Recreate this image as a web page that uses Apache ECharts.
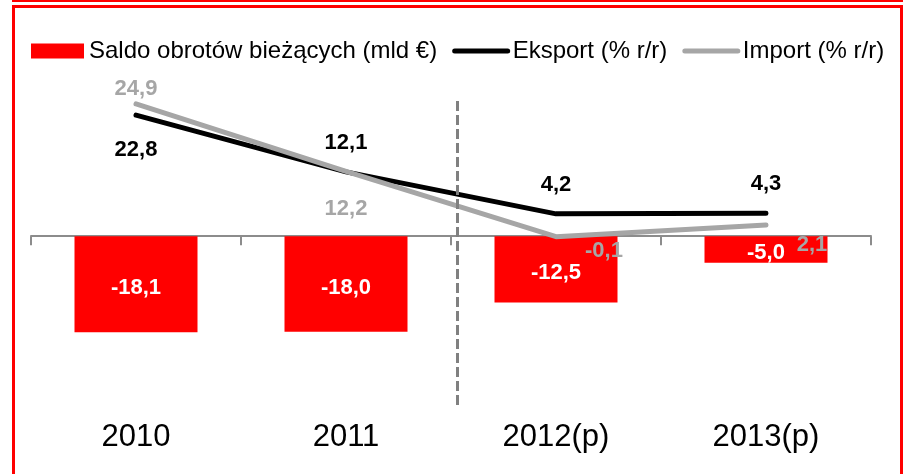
<!DOCTYPE html>
<html>
<head>
<meta charset="utf-8">
<script src="https://cdn.jsdelivr.net/npm/echarts@6/dist/echarts.min.js"></script>
<style>
html,body{margin:0;padding:0;background:#fff;}
#c{width:906px;height:474px;}
</style>
</head>
<body>
<div id="c"></div>
<script>
var categories = ['2010', '2011', '2012(p)', '2013(p)'];
var saldo = [-18.1, -18.0, -12.5, -5.0];
var eksport = [22.8, 12.1, 4.2, 4.3];
var importVals = [24.9, 12.2, -0.1, 2.1];
var seriesNames = ['Saldo obrotów bieżących (mld €)', 'Eksport (% r/r)', 'Import (% r/r)'];
var forecastStart = 2.03; // boundary between actual and forecast (in category units)

function fmt(v) { return v.toFixed(1).replace('.', ','); }

var eksLabel = [
  {position: 'bottom', distance: 20, offset: [0, 3]},
  {position: 'top', distance: 20, offset: [0, 3]},
  {position: 'top', distance: 19, offset: [0, 2]},
  {position: 'top', distance: 19, offset: [0, 2]}
];
var impLabel = [
  {position: 'top', distance: 6, offset: [0, 3]},
  {position: 'bottom', distance: 23, offset: [0, 3]},
  {position: 'inside', offset: [48, 14]},
  {position: 'inside', offset: [46, 20]}
];

var chart = echarts.init(document.getElementById('c'), null, {renderer: 'canvas'});
var labelFont = {fontFamily: 'Liberation Sans', fontSize: 22, fontWeight: 'bold'};

chart.setOption({
  animation: false,
  backgroundColor: '#ffffff',
  graphic: [
    {type: 'rect', shape: {x: 12, y: 0, width: 891, height: 2}, style: {fill: '#ff0000'}, silent: true},
    {type: 'rect', shape: {x: 13.5, y: 6.5, width: 888, height: 480}, style: {fill: 'none', stroke: '#ff0000', lineWidth: 3}, silent: true}
  ],
  legend: {
    left: 31, top: 39, padding: 0,
    itemWidth: 53, itemHeight: 15, itemGap: 15,
    textStyle: {fontFamily: 'Liberation Sans', fontSize: 24, color: '#000'},
    data: [
      {name: seriesNames[0], icon: 'rect'},
      {name: seriesNames[1], itemStyle: {opacity: 0}, lineStyle: {width: 5, color: '#000000', cap: 'round'}},
      {name: seriesNames[2], itemStyle: {opacity: 0}, lineStyle: {width: 5, color: '#a6a6a6', cap: 'round'}}
    ]
  },
  grid: {left: 31, right: 35, top: 97, bottom: 69, containLabel: false, outerBoundsMode: 'none'},
  xAxis: [{
    type: 'category',
    data: categories,
    position: 'bottom',
    axisLine: {onZero: true, lineStyle: {color: '#8c8c8c', width: 2}},
    axisTick: {show: true, length: 9, lineStyle: {color: '#8c8c8c', width: 2}},
    axisLabel: {show: false},
    splitLine: {show: false}
  }, {
    type: 'value', min: 0, max: 4, show: false
  }, {
    type: 'category',
    data: categories,
    position: 'bottom',
    axisLine: {show: false, onZero: false},
    axisTick: {show: false},
    axisLabel: {margin: 17, fontFamily: 'Liberation Sans', fontSize: 31, color: '#000'},
    splitLine: {show: false}
  }],
  yAxis: {
    type: 'value', min: -31.8, max: 26.2, show: false,
    splitLine: {show: false}
  },
  series: [
    {
      name: seriesNames[0], type: 'bar', barWidth: 123,
      itemStyle: {color: '#ff0000'},
      data: saldo,
      label: Object.assign({show: true, position: 'inside', offset: [0, 4], color: '#ffffff', formatter: function (p) { return fmt(p.value); }}, labelFont),
      z: 2
    },
    {
      name: 'divider', type: 'line', xAxisIndex: 1, data: [],
      markLine: {
        silent: true, symbol: ['none', 'none'],
        label: {show: false},
        lineStyle: {color: '#808080', width: 3, type: [10, 4]},
        data: [{xAxis: forecastStart}]
      },
      z: 1
    },
    {
      name: seriesNames[1], type: 'line', symbol: 'circle', symbolSize: 2, showSymbol: true,
      lineStyle: {color: '#000000', width: 5, cap: 'round', join: 'round'},
      itemStyle: {color: '#000000'},
      data: eksport.map(function (v, i) {
        return {value: v, label: Object.assign({show: true, color: '#000000', formatter: function (p) { return fmt(p.value); }}, labelFont, eksLabel[i])};
      }),
      z: 3
    },
    {
      name: seriesNames[2], type: 'line', symbol: 'circle', symbolSize: 2, showSymbol: true,
      lineStyle: {color: '#a6a6a6', width: 5, cap: 'round', join: 'round'},
      itemStyle: {color: '#a6a6a6'},
      data: importVals.map(function (v, i) {
        return {value: v, label: Object.assign({show: true, color: '#a6a6a6', formatter: function (p) { return fmt(p.value); }}, labelFont, impLabel[i])};
      }),
      z: 4
    }
  ]
});
</script>
</body>
</html>
